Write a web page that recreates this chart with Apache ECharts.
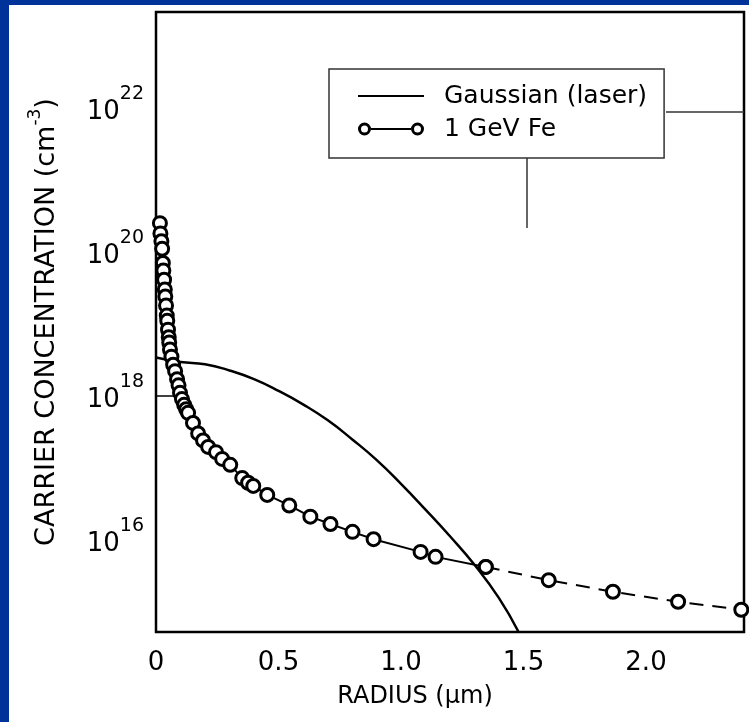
<!DOCTYPE html>
<html><head><meta charset="utf-8">
<script src="https://cdn.jsdelivr.net/npm/echarts@6/dist/echarts.min.js"></script>
<style>
html,body{margin:0;padding:0;background:#003399;width:749px;height:722px;overflow:hidden;}
#chart{position:absolute;left:9px;top:5px;width:740px;height:717px;background:#fff;}
</style></head><body><div id="chart"></div>
<script>
// Gaussian (laser) profile, radius in µm, concentration in cm^-3
const gaussX = [0, 0.1, 0.2, 0.3, 0.4, 0.5, 0.6, 0.7, 0.8, 0.9, 1.0, 1.1, 1.2, 1.3, 1.4, 1.48];
const gaussY = [3.4e18, 2.95e18, 2.75e18, 2.25e18, 1.7e18, 1.17e18, 7.6e17, 4.6e17, 2.5e17, 1.29e17, 6.0e16, 2.63e16, 1.12e16, 4.5e15, 1.55e15, 5.25e14];

// 1 GeV Fe track profile
const feX = [0.016, 0.018, 0.022, 0.025, 0.028, 0.030, 0.033, 0.036, 0.038, 0.041, 0.044, 0.046, 0.049, 0.052, 0.054, 0.057, 0.063, 0.070, 0.078, 0.086, 0.092, 0.098, 0.106, 0.115, 0.123, 0.131, 0.151, 0.172, 0.192, 0.213, 0.245, 0.270, 0.303, 0.352, 0.376, 0.397, 0.454, 0.544, 0.630, 0.712, 0.802, 0.888, 1.080, 1.141, 1.346, 1.603, 1.865, 2.131, 2.389];
const feY = [2.5e20, 1.8e20, 1.4e20, 1.1e20, 7.0e19, 5.5e19, 4.1e19, 3.0e19, 2.4e19, 1.8e19, 1.3e19, 1.1e19, 8.3e18, 6.5e18, 5.5e18, 4.4e18, 3.5e18, 2.7e18, 2.2e18, 1.7e18, 1.4e18, 1.1e18, 9.0e17, 7.5e17, 6.5e17, 5.8e17, 4.2e17, 3.0e17, 2.4e17, 1.95e17, 1.65e17, 1.33e17, 1.1e17, 7.2e16, 6.2e16, 5.6e16, 4.2e16, 3.0e16, 2.1e16, 1.66e16, 1.29e16, 1.02e16, 6.8e15, 5.8e15, 4.2e15, 2.75e15, 1.9e15, 1.38e15, 1.07e15];
const feDashFrom = 44; // index where the curve turns dashed

const xTicks = [0, 0.5, 1.0, 1.5, 2.0];
const yTickExponents = [16, 18, 20, 22];
const yMarkedTick = 1e18;

const FONT = 'DejaVu Sans';
const pairs = (xs, ys) => xs.map((x, i) => [x, ys[i]]);
const feAll = pairs(feX, feY);

const gaussIcon = 'path://M0,0 L0.01,0 L0,0 Z M0,5.5 L66,5.5 L66,7.5 L0,7.5 Z M0,13 L0.01,13 L0,13 Z';
const feIcon = 'path://M0,6.5 A6.5,6.5 0 1,1 13,6.5 A6.5,6.5 0 1,1 0,6.5 Z M3,6.5 A3.5,3.5 0 1,0 10,6.5 A3.5,3.5 0 1,0 3,6.5 Z M13,5.5 L53,5.5 L53,7.5 L13,7.5 Z M53,6.5 A6.5,6.5 0 1,1 66,6.5 A6.5,6.5 0 1,1 53,6.5 Z M56,6.5 A3.5,3.5 0 1,0 63,6.5 A3.5,3.5 0 1,0 56,6.5 Z';

const chart = echarts.init(document.getElementById('chart'));
chart.setOption({
  animation: false,
  textStyle: { fontFamily: FONT, color: '#000' },
  grid: { left: 147, top: 7, width: 588, height: 620, show: true, borderColor: '#000', borderWidth: 2.5, backgroundColor: 'transparent', containLabel: false },
  legend: {
    orient: 'vertical', left: 320, top: 64,
    padding: [12, 17, 14, 29],
    itemWidth: 66, itemHeight: 13, itemGap: 3,
    borderColor: '#333', borderWidth: 1.5,
    textStyle: { fontFamily: FONT, fontSize: 25, color: '#000', lineHeight: 30, padding: [0, 0, 0, 15] },
    data: [
      { name: 'Gaussian (laser)', icon: gaussIcon, itemStyle: { color: '#000', borderWidth: 0 } },
      { name: '1 GeV Fe', icon: feIcon, itemStyle: { color: '#000', borderWidth: 0 } }
    ]
  },
  xAxis: {
    type: 'value', min: 0, max: 2.4, interval: 0.5,
    axisLine: { show: false }, axisTick: { show: false }, splitLine: { show: false },
    axisLabel: {
      margin: 18, fontSize: 26, fontFamily: FONT, color: '#000',
      formatter: v => {
        const t = xTicks.find(k => Math.abs(k - v) < 1e-9);
        if (t === undefined) return '';
        return t === 0 ? '0' : t.toFixed(1);
      }
    },
    name: 'RADIUS (μm)', nameLocation: 'middle', nameGap: 53,
    nameTextStyle: { fontSize: 24, fontFamily: FONT, color: '#000', padding: [0, 70, 0, 0] }
  },
  yAxis: {
    type: 'log', logBase: 10, min: Math.pow(10, 14.72), max: Math.pow(10, 23.33),
    axisLine: { show: false }, axisTick: { show: false }, splitLine: { show: false }, minorTick: { show: false },
    axisLabel: {
      margin: 12, fontFamily: FONT, color: '#000', verticalAlign: 'middle', padding: [8, 0, 0, 0],
      formatter: v => {
        const e = Math.log10(v), r = Math.round(e);
        if (Math.abs(e - r) > 1e-6 || yTickExponents.indexOf(r) < 0) return '';
        return '{b|10}{s|' + r + '}';
      },
      rich: {
        b: { fontSize: 26, lineHeight: 54, fontFamily: FONT, color: '#000' },
        s: { fontSize: 19, lineHeight: 26, fontFamily: FONT, color: '#000', verticalAlign: 'top' }
      }
    },
    name: '{n|CARRIER CONCENTRATION (cm}{s|-3}{n|)}', nameLocation: 'middle', nameRotate: 90, nameGap: 89,
    nameTextStyle: {
      fontSize: 27, fontFamily: FONT, color: '#000',
      rich: {
        n: { fontSize: 27, lineHeight: 40, fontFamily: FONT, color: '#000' },
        s: { fontSize: 17, lineHeight: 17, fontFamily: FONT, color: '#000', verticalAlign: 'top' }
      }
    }
  },
  series: [
    {
      name: 'Gaussian (laser)', type: 'line', data: pairs(gaussX, gaussY),
      symbol: 'none', smooth: true, z: 2,
      lineStyle: { color: '#000', width: 2.5 }, itemStyle: { color: '#000' },
      markLine: {
        silent: true, symbol: 'none', label: { show: false },
        lineStyle: { color: '#000', width: 1.5, type: 'solid' },
        data: [[{ coord: [0, yMarkedTick] }, { coord: [0.075, yMarkedTick] }]]
      }
    },
    {
      name: '1 GeV Fe', type: 'line', data: feAll.slice(0, feDashFrom + 1),
      symbol: 'circle', symbolSize: 13, z: 3,
      lineStyle: { color: '#000', width: 2 },
      itemStyle: { color: '#fff', borderColor: '#000', borderWidth: 3 }
    },
    {
      name: '1 GeV Fe', type: 'line', data: feAll.slice(feDashFrom),
      symbol: 'circle', symbolSize: 13, z: 3,
      lineStyle: { color: '#000', width: 2, type: [14, 9] },
      itemStyle: { color: '#fff', borderColor: '#000', borderWidth: 3 }
    }
  ],
  graphic: [
    { type: 'line', shape: { x1: 518, y1: 153, x2: 518, y2: 223 }, style: { stroke: '#333', lineWidth: 1.5 }, silent: true },
    { type: 'line', shape: { x1: 657, y1: 107, x2: 735, y2: 107 }, style: { stroke: '#333', lineWidth: 1.5 }, silent: true }
  ]
});
</script></body></html>
